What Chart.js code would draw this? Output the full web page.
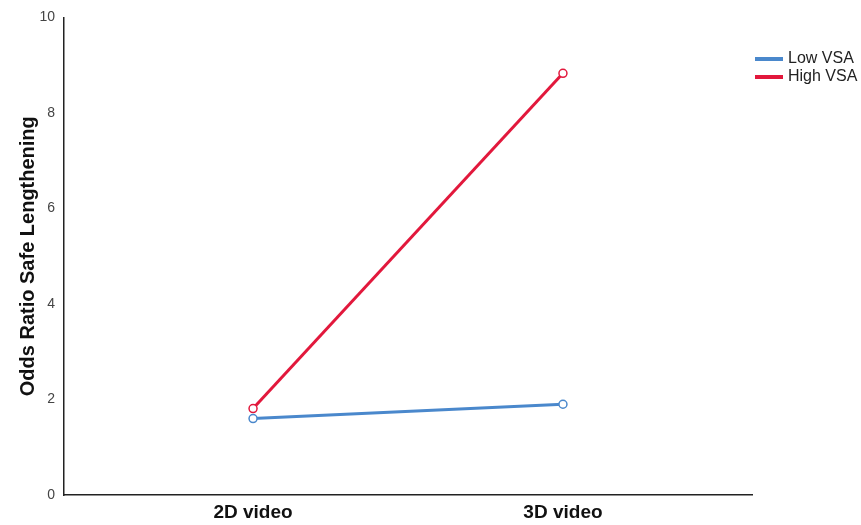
<!DOCTYPE html>
<html>
<head>
<meta charset="utf-8">
<script src="https://cdn.jsdelivr.net/npm/chart.js@4/dist/chart.umd.min.js"></script>
<style>
html,body{margin:0;padding:0;background:#fff;}
#wrap{width:861px;height:525px;}
</style>
</head>
<body>
<div id="wrap"><canvas id="c" width="861" height="525"></canvas></div>
<script>
const categories = ["2D video", "3D video"];
const lowVSA = [1.60, 1.90];
const highVSA = [1.81, 8.83];
const seriesNames = ["Low VSA", "High VSA"];
const yTicks = [0, 2, 4, 6, 8, 10];

const colors = ["#4a88cc", "#e2183c"];

const legendPlugin = {
  id: 'customLegend',
  afterDraw(chart) {
    const ctx = chart.ctx;
    ctx.save();
    chart.data.datasets.forEach((ds, i) => {
      const y = 59 + i * 18;
      ctx.strokeStyle = ds.borderColor;
      ctx.lineWidth = 4;
      ctx.beginPath();
      ctx.moveTo(755, y);
      ctx.lineTo(783, y);
      ctx.stroke();
      ctx.fillStyle = '#222';
      ctx.font = '16px "Liberation Sans", Arial, sans-serif';
      ctx.textBaseline = 'middle';
      ctx.textAlign = 'left';
      ctx.fillText(ds.label, 788, y);
    });
    ctx.restore();
  }
};

const mk = (vals) => vals.map((v, i) => ({x: i, y: v}));

new Chart(document.getElementById('c'), {
  type: 'line',
  data: {
    datasets: [
      {label: seriesNames[0], data: mk(lowVSA), borderColor: colors[0], borderWidth: 3,
       pointRadius: 4, pointBorderWidth: 1.5, pointBackgroundColor: '#ffffff', pointBorderColor: colors[0]},
      {label: seriesNames[1], data: mk(highVSA), borderColor: colors[1], borderWidth: 3,
       pointRadius: 4, pointBorderWidth: 1.5, pointBackgroundColor: '#ffffff', pointBorderColor: colors[1]}
    ]
  },
  options: {
    responsive: false,
    animation: false,
    layout: {padding: {top: 16, right: 109, left: 0, bottom: 0}},
    plugins: {legend: {display: false}, tooltip: {enabled: false}},
    scales: {
      x: {
        type: 'linear',
        min: -0.61, max: 1.61,
        afterBuildTicks: (s) => { s.ticks = categories.map((c, i) => ({value: i})); },
        ticks: {
          callback: (v) => categories[v],
          font: {family: '"Liberation Sans", Arial, sans-serif', size: 19, weight: 'bold'},
          color: '#111', padding: 6
        },
        grid: {display: false, drawTicks: false},
        border: {display: true, color: '#222', width: 1.5},
        afterFit: (s) => { s.height = 30; }
      },
      y: {
        min: 0, max: 10,
        afterBuildTicks: (s) => { s.ticks = yTicks.map(v => ({value: v})); },
        ticks: {
          font: {family: '"Liberation Sans", Arial, sans-serif', size: 14},
          color: '#444', padding: 9
        },
        title: {
          display: true, text: 'Odds Ratio Safe Lengthening',
          font: {family: '"Liberation Sans", Arial, sans-serif', size: 20, weight: 'bold'},
          color: '#111', padding: {top: 16, bottom: 0}
        },
        grid: {display: false, drawTicks: false},
        border: {display: true, color: '#222', width: 1.5},
        afterFit: (s) => { s.width = 64; }
      }
    }
  },
  plugins: [legendPlugin]
});
</script>
</body>
</html>
